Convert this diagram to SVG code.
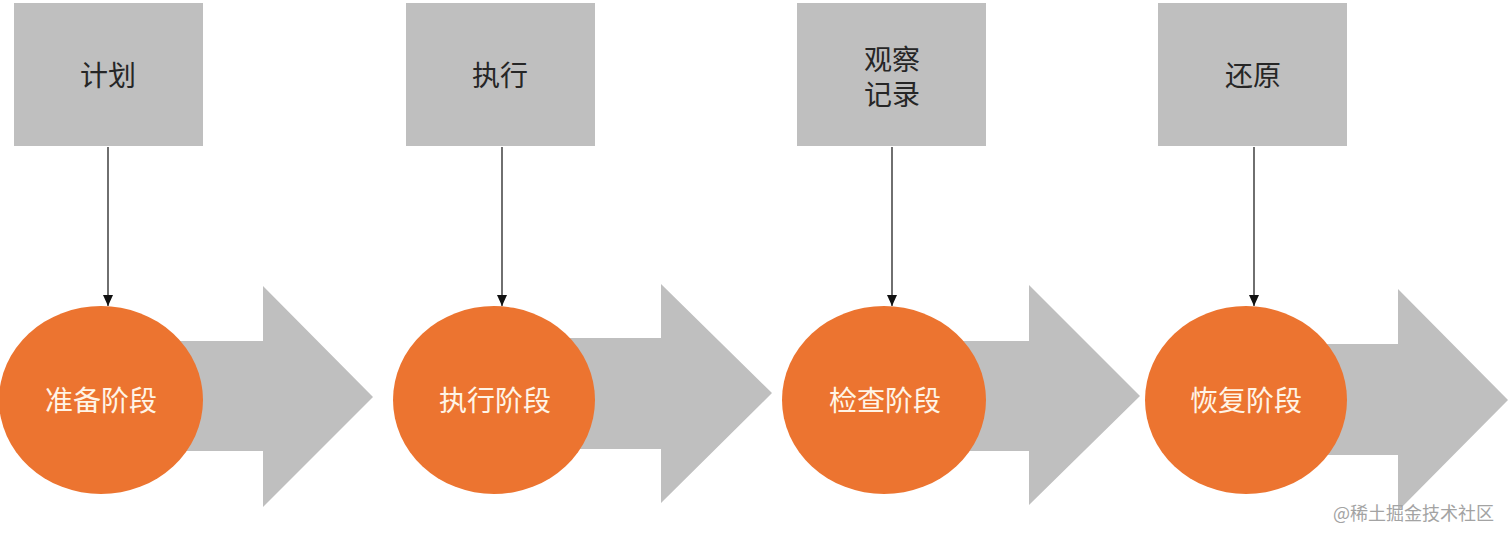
<svg xmlns="http://www.w3.org/2000/svg" width="1512" height="540" viewBox="0 0 1512 540">
  <style>
    .box { fill: #bfbfbf; }
    .flow { fill: #bfbfbf; }
    .stage { fill: #ec7430; }
    .boxText { font-family: "Noto Sans CJK SC", "Noto Sans", sans-serif; font-size: 28px; fill: #262626; text-anchor: middle; }
    .stageText { font-family: "Noto Sans CJK SC", "Noto Sans", sans-serif; font-size: 28px; fill: #fff4e6; text-anchor: middle; }
    .link { stroke: #222; stroke-width: 1.3; fill: none; }
    .mark { font-family: "Noto Sans CJK SC", "Noto Sans", sans-serif; font-size: 18px; fill: #a3a3a3; }
  </style>
  <defs>
    <marker id="arrowHead" markerUnits="userSpaceOnUse" markerWidth="11" markerHeight="10" refX="11" refY="5" orient="auto">
      <path d="M0,0 L11,5 L0,10 z" fill="#111"/>
    </marker>
  </defs>
  <rect width="1512" height="540" fill="#ffffff"/>

  <g id="flow-arrows">
    <polygon class="flow" points="160,341 263,341 263,286 373,397 263,507 263,451 160,451"/>
    <polygon class="flow" points="555,338 661,338 661,284 772,393 661,503 661,449 555,449"/>
    <polygon class="flow" points="945,341 1029,341 1029,285 1140,396 1029,505 1029,451 945,451"/>
    <polygon class="flow" points="1305,344 1398,344 1398,289 1508,400 1398,511 1398,455 1305,455"/>
  </g>

  <g id="box-plan">
    <rect class="box" x="14" y="3" width="189" height="143"/>
    <text class="boxText" x="108" y="86">计划</text>
  </g>
  <g id="box-execute">
    <rect class="box" x="406" y="3" width="189" height="143"/>
    <text class="boxText" x="500" y="86">执行</text>
  </g>
  <g id="box-observe">
    <rect class="box" x="797" y="3" width="189" height="143"/>
    <text class="boxText" x="892" y="70">观察<tspan x="892" dy="35">记录</tspan></text>
  </g>
  <g id="box-restore">
    <rect class="box" x="1158" y="3" width="189" height="143"/>
    <text class="boxText" x="1253" y="86">还原</text>
  </g>

  <g id="connectors">
    <line class="link" x1="108" y1="147" x2="108" y2="306" marker-end="url(#arrowHead)"/>
    <line class="link" x1="502" y1="147" x2="502" y2="306" marker-end="url(#arrowHead)"/>
    <line class="link" x1="892" y1="147" x2="892" y2="306" marker-end="url(#arrowHead)"/>
    <line class="link" x1="1254" y1="147" x2="1254" y2="306" marker-end="url(#arrowHead)"/>
  </g>

  <g id="stage-prepare">
    <ellipse class="stage" cx="101" cy="400" rx="102" ry="94"/>
    <text class="stageText" x="101" y="411">准备阶段</text>
  </g>
  <g id="stage-execute">
    <ellipse class="stage" cx="494" cy="400" rx="101" ry="94"/>
    <text class="stageText" x="495" y="411">执行阶段</text>
  </g>
  <g id="stage-check">
    <ellipse class="stage" cx="884" cy="400" rx="102" ry="94"/>
    <text class="stageText" x="885" y="411">检查阶段</text>
  </g>
  <g id="stage-recover">
    <ellipse class="stage" cx="1246" cy="400" rx="101" ry="94"/>
    <text class="stageText" x="1246" y="411">恢复阶段</text>
  </g>

  <text class="mark" x="1333" y="520">@稀土掘金技术社区</text>
</svg>
